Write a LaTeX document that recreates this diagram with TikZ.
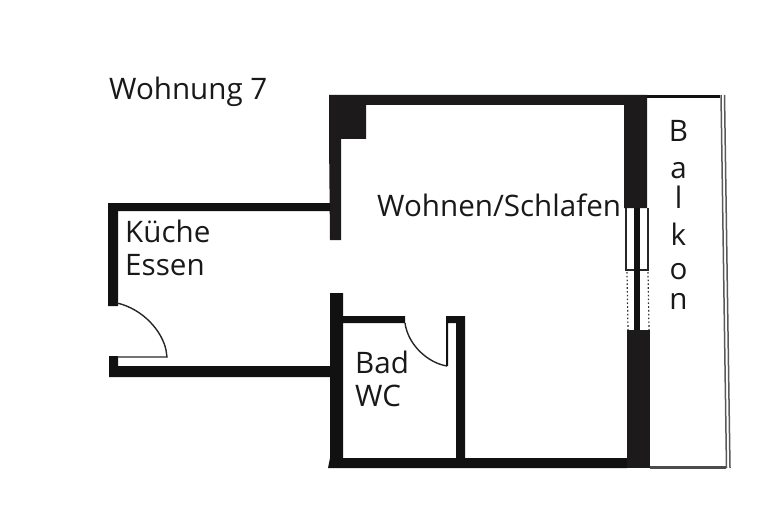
\documentclass[tikz,border=0pt]{standalone}
\usepackage{fontspec}
\setmainfont{Open Sans}
\definecolor{wall}{HTML}{111111}
\definecolor{wallscan}{HTML}{1C1A1A}
\tikzset{
  lbl/.style={inner sep=0pt,anchor=base west,text=black!90,font=\fontsize{29.6}{34}\selectfont},
  wallfill/.style={fill=wall,draw=none},
  scanfill/.style={fill=wallscan,draw=none},
  thin line/.style={draw=black!85,line width=1.2pt},
  door/.style={draw=black!85,line width=1.4pt},
  dotline/.style={draw=black!80,line width=1.2pt,dash pattern=on 1.6pt off 2.2pt}
}
\begin{document}
\begin{tikzpicture}[x=1pt,y=-1pt]
\useasboundingbox (0,0) rectangle (783,513);
% scanned walls (living room)
\fill[scanfill] (329,95) -- (647,95) -- (647,208) -- (624,208) -- (624,105) -- (366,105) -- (366,139) -- (341,139) -- (341,240) -- (330,240) -- (329,139) -- cycle;
\fill[scanfill] (627,330) rectangle (650,468);
% balcony
\fill[wall] (647,95) rectangle (720,98);
\fill[black!70] (650,466) rectangle (726,469);
\draw[black!65,line width=1.5pt] (721,95) -- (726.5,468);
\draw[black!65,line width=1.5pt] (724.5,95) -- (730,468);
% window
\draw[thin line] (626,208) -- (626,270) -- (648,270) -- (648,208);
\fill[wall] (634,208) rectangle (640,330);
\draw[dotline] (627,272) -- (628,330);
\draw[dotline] (648,272) -- (649,330);
% kitchen walls
\fill[wallfill] (330,203) -- (108,203) -- (108,306) -- (118,306) -- (118,211) -- (330,211) -- cycle;
\fill[wallfill] (109,356) -- (118,356) -- (118,366) -- (330,366) -- (330,377) -- (109,377) -- cycle;
% bath walls
\fill[wallfill] (330,293) -- (343,293) -- (343,316) -- (405,316) -- (405,323) -- (343,323) -- (343,458) -- (456,458) -- (456,323) -- (448,323) -- (448,366) -- (446,366) -- (446,316) -- (465,316) -- (465,458) -- (627,458) -- (627,468) -- (328,468) -- (330,458) -- cycle;
% doors
\draw[door] (117,303) .. controls (143,309) and (162,331) .. (166,350) -- (167,357) -- (117,357);
\draw[door] (405,323) .. controls (408,345) and (428,363) .. (447,366);
% labels
\node[lbl] (t1) at (109,100) {Wohnung 7};
\node[lbl] (t2) at (377,216) {Wohnen/Schlafen};
\node[lbl] (t3) at (125,242) {Küche};
\node[lbl] (t4) at (125,275) {Essen};
\node[lbl] (t5) at (355,373) {Bad};
\node[lbl] (t6) at (355,406) {WC};
\foreach \c/\y in {B/142,a/178,l/208,k/245,o/279,n/309}{
  \node[lbl,anchor=base] at (678.5,\y) {\c};
}
\end{tikzpicture}
\end{document}
